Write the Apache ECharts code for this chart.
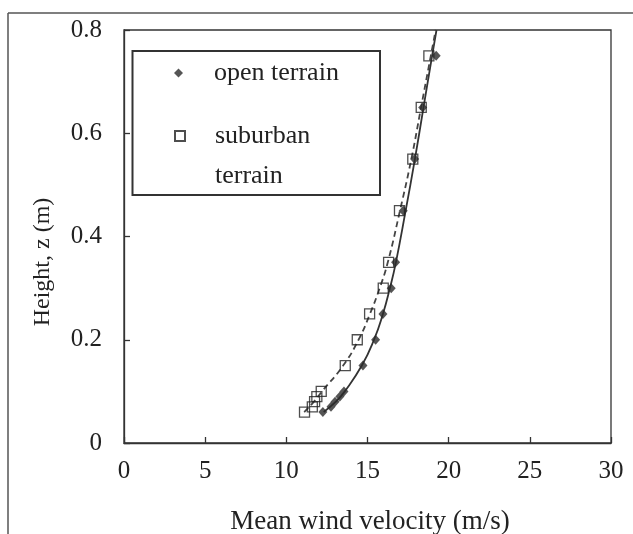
<!DOCTYPE html>
<html>
<head>
<meta charset="utf-8">
<script src="https://cdn.jsdelivr.net/npm/echarts@6/dist/echarts.min.js"></script>
<style>
html,body{margin:0;padding:0;background:#fff;}
#chart{width:633px;height:534px;}
</style>
</head>
<body>
<div id="chart"></div>
<script>
// Measured heights (m)
var heights = [0.06, 0.07, 0.08, 0.09, 0.1, 0.15, 0.2, 0.25, 0.3, 0.35, 0.45, 0.55, 0.65, 0.75];
// Open terrain mean wind velocity (m/s)
var openVel = [12.25, 12.75, 13.0, 13.3, 13.55, 14.72, 15.5, 15.95, 16.46, 16.73, 17.2, 17.9, 18.4, 19.23];
// Suburban terrain mean wind velocity (m/s)
var subVel = [11.12, 11.6, 11.74, 11.88, 12.15, 13.63, 14.37, 15.13, 15.97, 16.3, 16.97, 17.79, 18.31, 18.78];
// Fitted profile curves
var openCurveZ = [0.06, 0.08, 0.1, 0.15, 0.2, 0.25, 0.3, 0.35, 0.45, 0.55, 0.65, 0.75, 0.8];
var openCurveV = [12.3, 13.05, 13.6, 14.65, 15.4, 15.95, 16.38, 16.75, 17.35, 17.92, 18.45, 18.98, 19.25];
var subCurveZ = [0.06, 0.08, 0.1, 0.15, 0.2, 0.25, 0.3, 0.35, 0.45, 0.55, 0.65, 0.75, 0.8];
var subCurveV = [11.1, 11.7, 12.2, 13.5, 14.45, 15.15, 15.75, 16.25, 17.0, 17.7, 18.3, 18.9, 19.2];
// Axis ticks
var xTicks = [0, 5, 10, 15, 20, 25, 30];
var yTicks = [0, 0.2, 0.4, 0.6, 0.8];

function pairs(xs, ys) { return xs.map(function (x, i) { return [x, ys[i]]; }); }

var FONT = '"Liberation Serif", "DejaVu Serif", serif';
var INK = '#222';

var chart = echarts.init(document.getElementById('chart'), null, {renderer: 'canvas'});
chart.setOption({
  animation: false,
  backgroundColor: '#fff',
  grid: {left: 124, right: 22, top: 30, bottom: 91, show: true, borderColor: '#333', borderWidth: 1.3, backgroundColor: 'transparent'},
  xAxis: {
    type: 'value', min: xTicks[0], max: xTicks[xTicks.length - 1], interval: 5,
    splitLine: {show: false},
    axisLine: {show: true, lineStyle: {color: '#333', width: 1.3}},
    axisTick: {show: true, inside: true, length: 6, lineStyle: {color: '#333', width: 1.3}},
    axisLabel: {color: INK, fontFamily: FONT, fontSize: 25, margin: 16}
  },
  yAxis: {
    type: 'value', min: yTicks[0], max: yTicks[yTicks.length - 1], interval: 0.2,
    splitLine: {show: false},
    axisLine: {show: true, lineStyle: {color: '#333', width: 1.3}},
    axisTick: {show: true, inside: true, length: 6, lineStyle: {color: '#333', width: 1.3}},
    axisLabel: {color: INK, fontFamily: FONT, fontSize: 25, margin: 22,
      formatter: function (v) { return v === 0 ? '0' : v.toFixed(1); }}
  },
  legend: [
    {
      data: ['open terrain'], orient: 'vertical', left: 174, top: 59, padding: 0,
      itemWidth: 9, itemHeight: 9,
      textStyle: {color: INK, fontFamily: FONT, fontSize: 26, lineHeight: 28, padding: [0, 0, 0, 26]}
    },
    {
      data: ['suburban terrain'], orient: 'vertical', left: 174, top: 76, padding: 0,
      itemWidth: 10, itemHeight: 10,
      formatter: function () { return '\nsuburban\nterrain'; },
      textStyle: {color: INK, fontFamily: FONT, fontSize: 26, lineHeight: 40, padding: [0, 0, 0, 25]}
    }
  ],
  graphic: [
    {type: 'line', silent: true, shape: {x1: 8, y1: 13, x2: 8, y2: 534}, style: {stroke: '#555', lineWidth: 1.5}},
    {type: 'line', silent: true, shape: {x1: 8, y1: 13, x2: 633, y2: 13}, style: {stroke: '#555', lineWidth: 1.5}},
    {type: 'rect', silent: true, shape: {x: 132.5, y: 51, width: 247.5, height: 144}, style: {fill: 'none', stroke: '#333', lineWidth: 2}},
    {type: 'text', silent: true, x: 370, y: 522, style: {text: 'Mean wind velocity (m/s)', fill: INK, font: '27px ' + FONT, align: 'center', verticalAlign: 'middle'}},
    {type: 'text', silent: true, x: 43, y: 262, rotation: Math.PI / 2, style: {text: 'Height, z (m)', fill: INK, font: '24px ' + FONT, align: 'center', verticalAlign: 'middle'}}
  ],
  series: [
    {
      name: 'open terrain curve', type: 'line', data: pairs(openCurveV, openCurveZ),
      showSymbol: false, smooth: 0.5, z: 2,
      lineStyle: {color: '#333', width: 1.8}
    },
    {
      name: 'suburban terrain curve', type: 'line', data: pairs(subCurveV, subCurveZ),
      showSymbol: false, smooth: 0.5, z: 2,
      lineStyle: {color: '#444', width: 1.8, type: [6, 4]}
    },
    {
      name: 'open terrain', type: 'scatter', data: pairs(openVel, heights),
      symbol: 'diamond', symbolSize: [9, 10], z: 3,
      itemStyle: {color: '#2a2a2a'}
    },
    {
      name: 'suburban terrain', type: 'scatter', data: pairs(subVel, heights),
      symbol: 'rect', symbolSize: 10, z: 4,
      itemStyle: {color: 'rgba(255,255,255,0)', borderColor: '#222', borderWidth: 1.3}
    }
  ]
});
</script>
</body>
</html>
